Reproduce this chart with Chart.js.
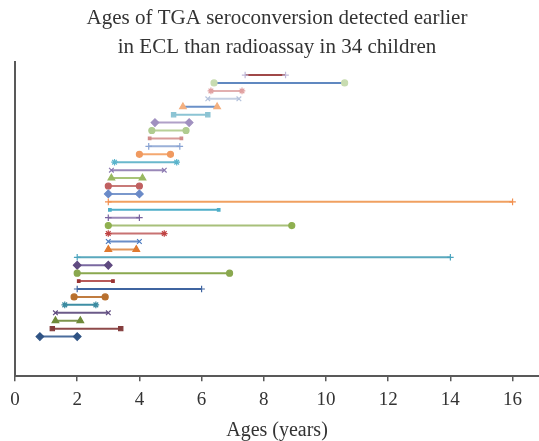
<!DOCTYPE html>
<html>
<head>
<meta charset="utf-8">
<script src="https://cdn.jsdelivr.net/npm/chart.js@4"></script>
<style>
  html, body { margin: 0; padding: 0; background: #fff; overflow: hidden; }
  #wrap { width: 539px; height: 441px; }
</style>
</head>
<body>
<div id="wrap"><canvas id="agesChart"></canvas></div>
<script>
// child 1 is the bottom row, child 34 the top row
var children = [];
for (var c = 1; c <= 34; c++) children.push(c);

// age (years) when ECL detected TGA
var eclAges = [0.8, 1.2, 1.3, 1.3, 1.6, 1.9, 2.0, 2.05, 2.0, 2.0,
               2.0, 3.0, 3.0, 3.0, 3.0, 3.0, 3.05, 3.0, 3.0, 3.0,
               3.1, 3.1, 3.2, 4.0, 4.3, 4.33, 4.4, 4.5, 5.1, 5.4,
               6.2, 6.3, 6.4, 7.4];
// age (years) when radioassay detected TGA
var radioAges = [2.0, 3.4, 2.1, 3.0, 2.6, 2.9, 6.0, 3.15, 6.9, 3.0,
                 14.0, 3.9, 4.0, 4.8, 8.9, 4.0, 6.55, 16.0, 4.0, 4.0,
                 4.1, 4.8, 5.2, 5.0, 5.3, 5.35, 5.5, 5.6, 6.2, 6.5,
                 7.2, 7.3, 10.6, 8.7];
var xTicks = [0, 2, 4, 6, 8, 10, 12, 14, 16];

// styles per row
var lineColors = ['#4a6c9c', '#8e4a4a', '#7d944c', '#6b5a88', '#3e8ea4', '#c07c40',
                  '#3f64a0', '#b85a5a', '#8aa84f', '#7a68a0', '#5aa8bd', '#e0955a',
                  '#6a8ec8', '#c87272', '#a8c07a', '#9a88b8', '#4eaec8', '#f0a060',
                  '#7a98cc', '#c87a78', '#a8c478', '#9a88b8', '#6ab8cc', '#f4a870',
                  '#9ab0d8', '#d89a98', '#b8d098', '#b0a0c8', '#8cc4d4', '#6a90c8',
                  '#c4cfe2', '#e2b0b0', '#6088c0', '#a04848'];
var markerColors = ['#2f5384', '#843c3c', '#6f8a3a', '#5f4a80', '#3a8aa0', '#b8702e',
                    '#3f64a0', '#9a3434', '#8aa84f', '#5f4a80', '#4ba4be', '#e07a30',
                    '#4a7ac0', '#c04444', '#8fb050', '#7a64a0', '#4eaec8', '#f29050',
                    '#6a8ac8', '#c06060', '#98b860', '#8a78b0', '#5ab4cc', '#f09a60',
                    '#8aa4d4', '#d08a88', '#b0cc90', '#a090c0', '#8cc4d4', '#f4b080',
                    '#b4c2dc', '#e0a0a0', '#c8dcb0', '#c0b8d8'];
var markerShapes = ['rectRot', 'rect', 'triangle', 'crossRot', 'star', 'circle',
                    'cross', 'rect', 'circle', 'rectRot', 'cross', 'triangle',
                    'crossRot', 'star', 'circle', 'cross', 'rect', 'cross',
                    'rectRot', 'circle', 'triangle', 'crossRot', 'star', 'circle',
                    'cross', 'rect', 'circle', 'rectRot', 'rect', 'triangle',
                    'crossRot', 'star', 'circle', 'cross'];

function markerSize(shape, i) {
    if (shape === 'rect' && (i === 7 || i === 16 || i === 25)) return 1.8;
    if (shape === 'triangle') return 3.8;
    if (shape === 'rectRot') return 3.8;
    if (shape === 'rect') return 3;
    if (shape === 'circle') return 3;
    return 3.3;
}

var datasets = [];
for (var i = 0; i < children.length; i++) {
    datasets.push({
        label: 'Child ' + children[i],
        data: [{ x: eclAges[i], y: children[i] }, { x: radioAges[i], y: children[i] }],
        showLine: true,
        borderColor: lineColors[i],
        borderWidth: 2,
        pointStyle: markerShapes[i],
        pointRadius: markerSize(markerShapes[i], i),
        pointBackgroundColor: markerColors[i],
        pointBorderColor: markerColors[i],
        pointBorderWidth: 1.2
    });
}

var ctx = document.getElementById('agesChart').getContext('2d');
var agesChart = new Chart(ctx, {
    type: 'scatter',
    data: { datasets: datasets },
    options: {
        responsive: true,
        maintainAspectRatio: false,
        animation: false,
        layout: { autoPadding: false, padding: { left: 15, right: 0, top: 4, bottom: 0 } },
        plugins: {
            legend: { display: false },
            tooltip: { enabled: false },
            title: {
                display: true,
                fullSize: false,
                text: ['Ages of TGA seroconversion detected earlier', 'in ECL than radioassay in 34 children'],
                color: '#333333',
                font: { family: 'Liberation Serif', size: 21, weight: 'normal', lineHeight: 1.38 },
                padding: { top: 0, bottom: 0 }
            }
        },
        scales: {
            x: {
                type: 'linear',
                min: 0,
                max: 16.85,
                afterBuildTicks: function (scale) {
                    scale.ticks = xTicks.map(function (v) { return { value: v }; });
                },
                afterFit: function (scale) {
                    // let the axis run to the right edge like the original
                    scale.paddingRight = 0;
                },
                grid: { drawOnChartArea: false, drawTicks: true, tickLength: 5, color: '#595959', lineWidth: 1.5 },
                border: { display: true, color: '#595959', width: 2 },
                ticks: { color: '#333333', font: { family: 'Liberation Serif', size: 19 }, padding: 7, maxRotation: 0 },
                title: {
                    display: true,
                    text: 'Ages (years)',
                    color: '#333333',
                    font: { family: 'Liberation Serif', size: 20, lineHeight: 1.0 },
                    padding: { top: 3, bottom: 0 }
                }
            },
            y: {
                type: 'linear',
                min: -4,
                max: 35.65,
                grid: { display: false, drawTicks: false, tickLength: 0 },
                border: { display: true, color: '#595959', width: 2 },
                ticks: { display: false }
            }
        }
    }
});
</script>
</body>
</html>
